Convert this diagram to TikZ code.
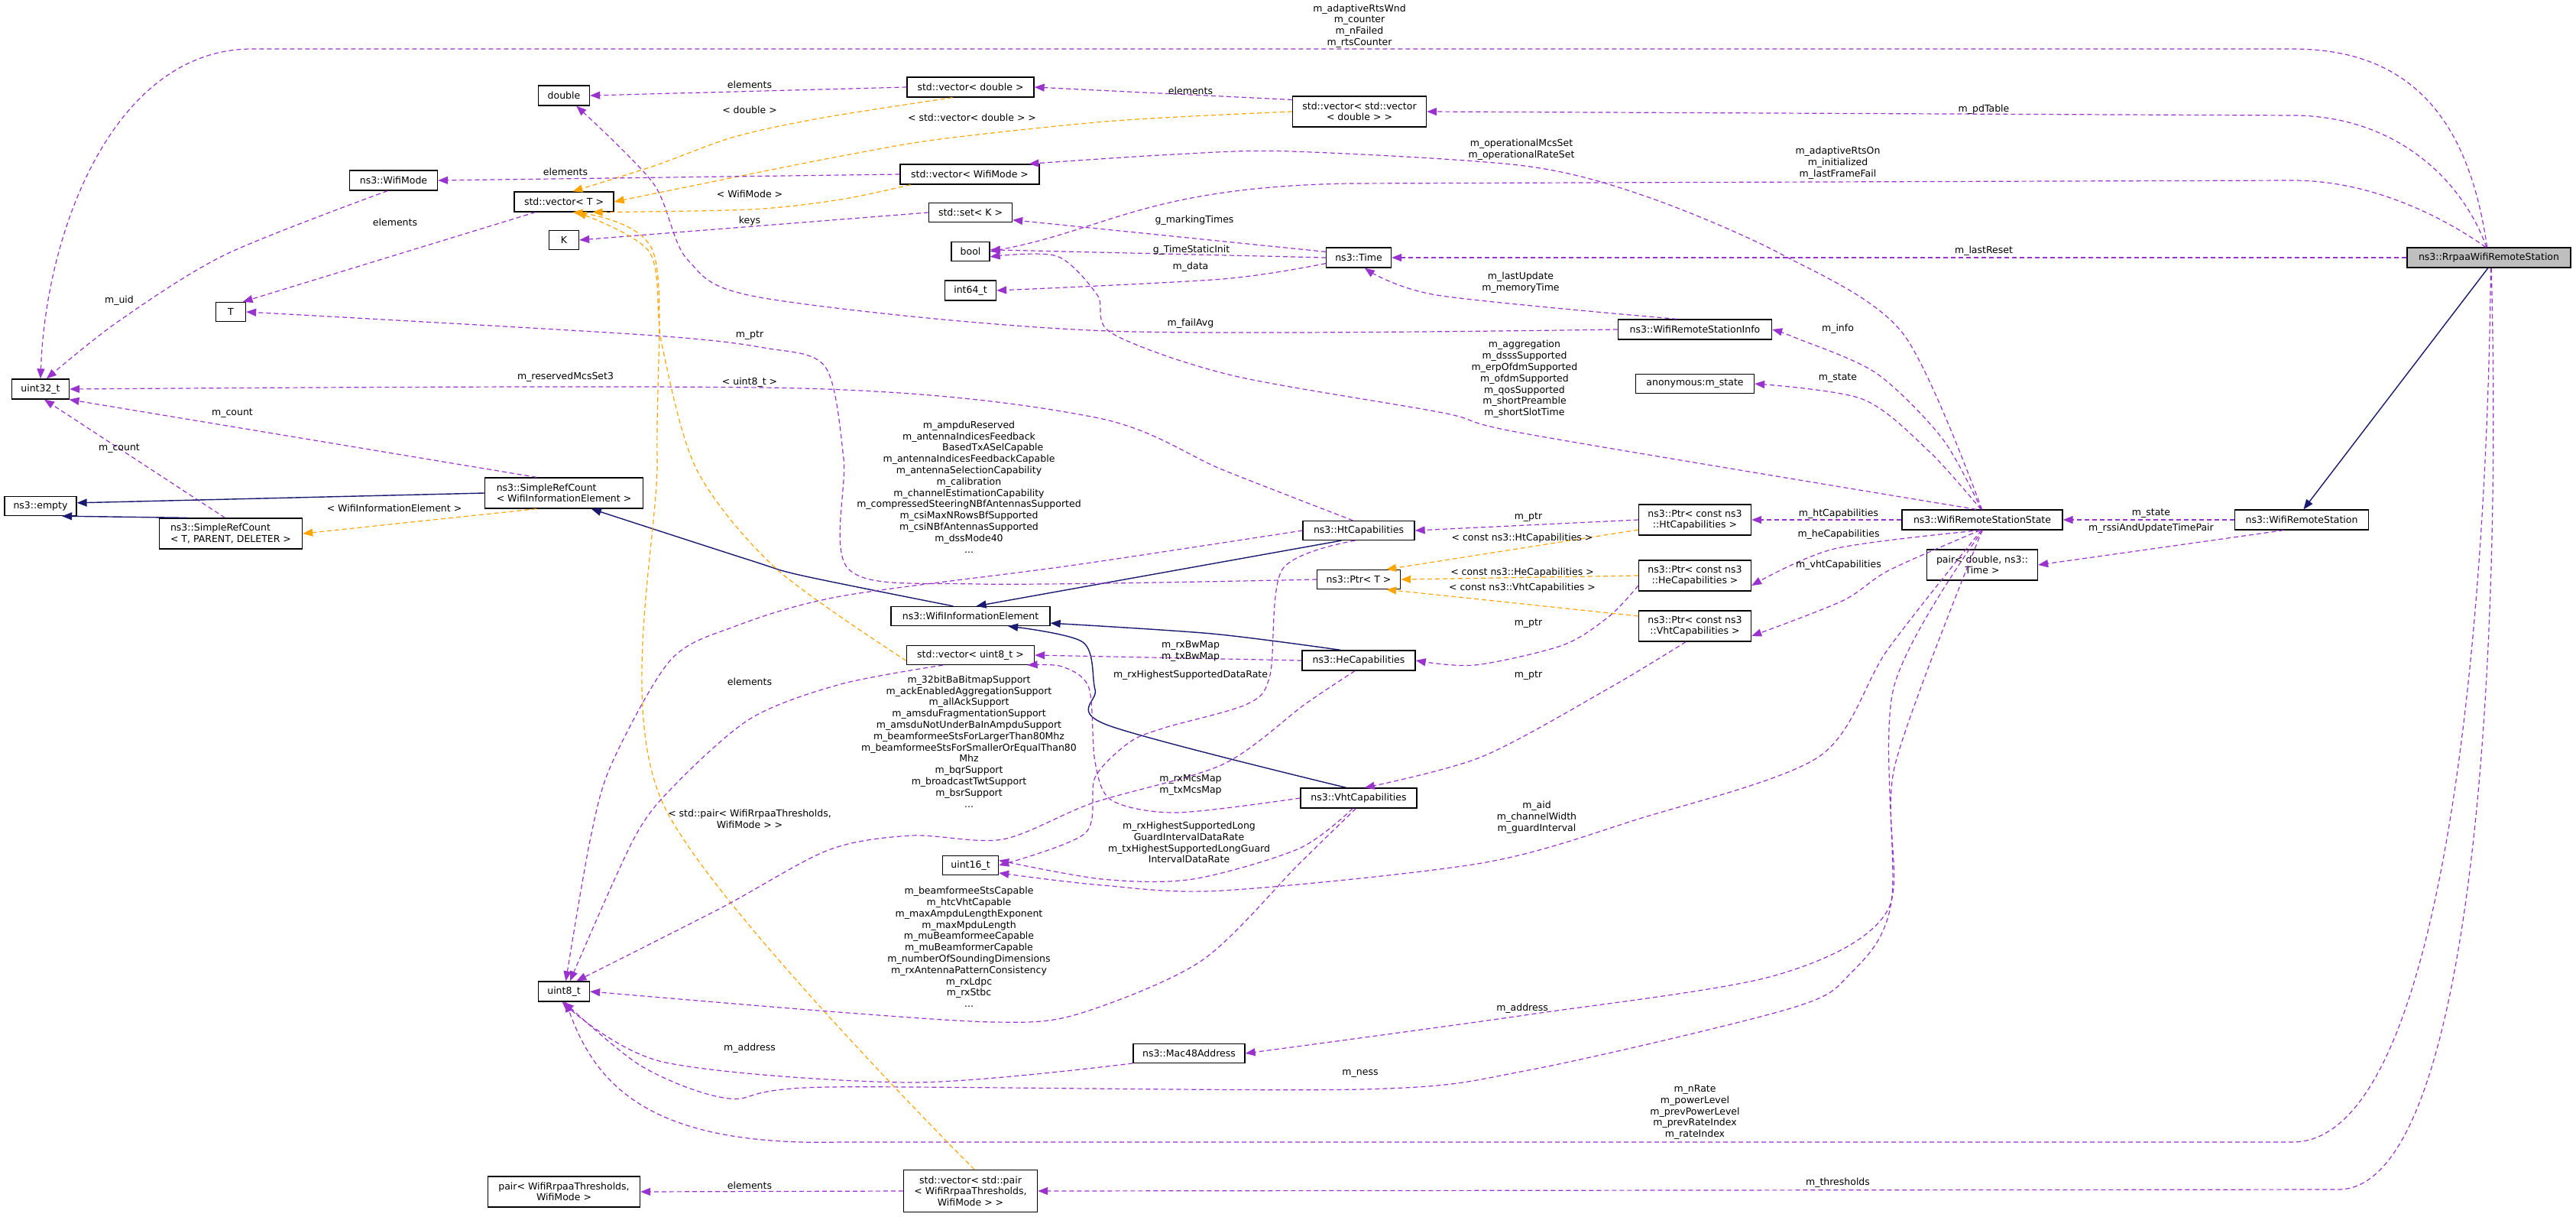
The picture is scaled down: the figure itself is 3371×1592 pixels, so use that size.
\documentclass[tikz,border=0pt]{standalone}
\usepackage{fontspec}
\setmainfont{DejaVu Sans}
\usetikzlibrary{arrows.meta}
\definecolor{pur}{RGB}{154,50,205}
\definecolor{org}{RGB}{255,165,0}
\definecolor{nav}{RGB}{25,25,112}
\tikzset{
 cls/.style={draw=black,line width=1.3pt,fill=white,inner sep=0pt,align=center,font=\fontsize{12.5}{14.5}\selectfont},
 lcls/.style={cls,align=left},
 lbl/.style={inner sep=0pt,align=center,font=\fontsize{12.5}{14.8}\selectfont},
 pe/.style={draw=pur,line width=1.2pt,dash pattern=on 6pt off 4pt,-{Triangle[length=13pt,width=10pt,fill=pur]}},
 oe/.style={draw=org,line width=1.2pt,dash pattern=on 6pt off 4pt,-{Triangle[length=13pt,width=10pt,fill=org]}},
 ne/.style={draw=nav,line width=1.4pt,-{Triangle[length=13pt,width=10pt,fill=nav]}},
 sm/.style={smooth,tension=0.5}
}
\begin{document}
\begin{tikzpicture}[x=1pt,y=-1pt]
\fill[white] (0,0) rectangle (3371,1592);
\useasboundingbox (0,0) rectangle (3371,1592);
% nodes
\node[cls,minimum width=75,minimum height=26] (uint32) at (53,509) {uint32\_t};
\node[cls,minimum width=94,minimum height=25] (empty) at (53,662) {ns3::empty};
\node[cls,minimum width=39,minimum height=25] (T) at (302,408) {T};
\node[cls,minimum width=115,minimum height=26] (wmode) at (515,236) {ns3::WifiMode};
\node[cls,minimum width=130,minimum height=26] (vecT) at (738,264) {std::vector< T >};
\node[cls,minimum width=67,minimum height=26] (double) at (738,125) {double};
\node[cls,minimum width=39,minimum height=25] (K) at (738,314) {K};
\node[lcls,minimum width=207,minimum height=40] (srcw) at (738,645) {ns3::SimpleRefCount\\< WifiInformationElement >};
\node[lcls,minimum width=187,minimum height=40] (srct) at (302,698) {ns3::SimpleRefCount\\< T, PARENT, DELETER >};
\node[cls,minimum width=67,minimum height=26] (uint8) at (738,1297) {uint8\_t};
\node[cls,minimum width=199,minimum height=40] (pairwm) at (738,1559) {pair< WifiRrpaaThresholds,\\ WifiMode >};
\node[cls,minimum width=166,minimum height=26] (vecd) at (1270,114) {std::vector< double >};
\node[cls,minimum width=182,minimum height=26] (vecwm) at (1269,228) {std::vector< WifiMode >};
\node[cls,minimum width=109,minimum height=25] (setK) at (1270,278) {std::set< K >};
\node[cls,minimum width=50,minimum height=25] (bool) at (1270,329) {bool};
\node[cls,minimum width=67,minimum height=26] (int64) at (1270,380) {int64\_t};
\node[cls,minimum width=208,minimum height=25] (wie) at (1270,806) {ns3::WifiInformationElement};
\node[cls,minimum width=167,minimum height=25] (vecu8) at (1270,857) {std::vector< uint8\_t >};
\node[cls,minimum width=73,minimum height=25] (uint16) at (1270,1132) {uint16\_t};
\node[cls,minimum width=175,minimum height=55] (vecpair) at (1270,1558) {std::vector< std::pair\\< WifiRrpaaThresholds,\\ WifiMode > >};
\node[cls,minimum width=146,minimum height=25] (mac) at (1556,1378) {ns3::Mac48Address};
\node[cls,minimum width=175,minimum height=40] (vecvec) at (1779,146) {std::vector< std::vector\\< double > >};
\node[cls,minimum width=85,minimum height=26] (time) at (1778,337) {ns3::Time};
\node[cls,minimum width=146,minimum height=25] (ht) at (1778,694) {ns3::HtCapabilities};
\node[cls,minimum width=109,minimum height=25] (ptrT) at (1778,758) {ns3::Ptr< T >};
\node[cls,minimum width=148,minimum height=26] (he) at (1778,864) {ns3::HeCapabilities};
\node[cls,minimum width=152,minimum height=26] (vht) at (1778,1044) {ns3::VhtCapabilities};
\node[cls,minimum width=201,minimum height=26] (info) at (2218,431) {ns3::WifiRemoteStationInfo};
\node[cls,minimum width=155,minimum height=25] (anon) at (2218,502) {anonymous:m\_state};
\node[cls,minimum width=147,minimum height=40] (pht) at (2218,680) {ns3::Ptr< const ns3\\::HtCapabilities >};
\node[cls,minimum width=147,minimum height=40] (phe) at (2218,753) {ns3::Ptr< const ns3\\::HeCapabilities >};
\node[cls,minimum width=147,minimum height=40] (pvht) at (2218,819) {ns3::Ptr< const ns3\\::VhtCapabilities >};
\node[cls,minimum width=210,minimum height=26] (wrss) at (2594,680) {ns3::WifiRemoteStationState};
\node[cls,minimum width=145,minimum height=40] (pairdt) at (2594,739) {pair< double, ns3::\\Time >};
\node[cls,minimum width=175,minimum height=26] (wrs) at (3012,680) {ns3::WifiRemoteStation};
\node[cls,fill=black!25,minimum width=214,minimum height=26] (rrpaa) at (3257,337) {ns3::RrpaaWifiRemoteStation};

% edges from Rrpaa
\draw[pe] (rrpaa.100) .. controls (3230,150) and (3150,64) .. (3000,64) -- (330,64) .. controls (150,64) and (60,300) .. (uint32.north);
\draw[pe] (rrpaa.103) .. controls (3220,230) and (3130,151) .. (3000,151) -- (vecvec.east);
\draw[pe] (rrpaa.107) .. controls (3220,300) and (3120,236) .. (3000,236) -- (1765,240) .. controls (1500,245) and (1450,300) .. (bool.east);
\draw[pe] (rrpaa.west) -- (time.east);
\draw[pe] (rrpaa.-80) .. controls (3255,800) and (3200,1494) .. (3000,1494) -- (1100,1494) .. controls (850,1500) and (780,1420) .. (uint8.-80);
\draw[pe] (rrpaa.-77) .. controls (3275,900) and (3230,1556) .. (3060,1556) -- (vecpair.east);
\draw[ne] (rrpaa.-95) -- (wrs.80);
% WRS
\draw[pe] (wrs.west) -- (wrss.east);
\draw[pe] (wrs.-150) -- (pairdt.east);
% WRSS
\draw[pe] plot[sm] coordinates {(wrss.95) (2542,574) (2455,488) (2350,442) (info.east)};
\draw[pe] plot[sm] coordinates {(wrss.97) (2525,591) (2437,522) (anon.east)};
\draw[pe] (wrss.west) -- (pht.east);
\draw[pe] plot[sm] coordinates {(wrss.-100) (2400,718) (phe.-10)};
\draw[pe] plot[sm] coordinates {(wrss.-102) (2472,746) (2411,786) (pvht.-10)};
\draw[pe] plot[sm] coordinates {(wrss.92) (2490,436) (2332,333) (2157,258) (1995,217) (1689,198) (1536,202) (vecwm.10)};
\draw[pe] plot[sm] coordinates {(wrss.120) (2000,568) (1888,540) (1612,491) (1455,436) (1436,386) (1383,335) (bool.-15)};
\draw[pe] plot[sm] coordinates {(wrss.-95) (2470,850) (2380,990) (2142,1072) (1939,1129) (1600,1165) (1442,1158) (uint16.-15)};
\draw[pe] plot[sm] coordinates {(wrss.-90) (2480,1000) (2470,1191) (2323,1276) (1995,1328) (mac.east)};
\draw[pe] plot[sm] coordinates {(wrss.-88) (2478,900) (2475,1180) (2420,1275) (2340,1320) (2000,1400) (1780,1425) (1084,1422) (954,1437) (840,1395) (uint8.-90)};
% Time, Info
\draw[pe] (time.170) -- (setK.-10);
\draw[pe] (time.west) -- (bool.5);
\draw[pe] plot[sm] coordinates {(time.-170) (1600,365) (int64.east)};
\draw[pe] plot[sm] coordinates {(info.150) (1880,386) (time.-60)};
\draw[pe] plot[sm] coordinates {(info.west) (1450,433) (1000,390) (900,340) (855,240) (double.-40)};
% vectors
\draw[pe] (vecvec.170) -- (vecd.east);
\draw[oe] plot[sm] coordinates {(vecvec.west) (1459,158) (1230,182) (1107,203) (1000,224) (vecT.east)};
\draw[oe] plot[sm] coordinates {(vecd.-150) (1077,154) (961,179) (856,217) (vecT.50)};
\draw[pe] (vecd.west) -- (double.east);
\draw[pe] (vecwm.west) -- (wmode.east);
\draw[oe] plot[sm] coordinates {(vecwm.-170) (1100,261) (982,274) (vecT.-20)};
\draw[pe] (setK.west) -- (K.east);
\draw[pe] (vecT.-160) -- (T.40);
\draw[pe] plot[sm] coordinates {(wmode.-120) (295,333) (154,421) (uint32.60)};
% SimpleRefCount
\draw[pe] (srcw.150) -- (uint32.-20);
\draw[pe] (srct.110) -- (uint32.-70);
\draw[ne] (srcw.west) -- (empty.5);
\draw[ne] (srct.160) -- (empty.-25);
\draw[oe] (srcw.-150) -- (srct.east);
\draw[ne] plot[sm] coordinates {(wie.150) (1050,753) (982,733) (srcw.-30)};
% caps
\draw[ne] (ht.-150) -- (wie.60);
\draw[ne] plot[sm] coordinates {(he.150) (1586,829) (wie.-5)};
\draw[ne] plot[sm] coordinates {(vht.140) (1448,948) (1433,902) (1417,840) (wie.-15)};
\draw[pe] plot[sm] coordinates {(ht.120) (1601,615) (1433,546) (1050,508) (uint32.east)};
\draw[oe] plot[sm] coordinates {(vecu8.-175) (1017,745) (912,615) (866,450) (850,330) (vecT.-40)};
\draw[oe] plot[sm] coordinates {(vecpair.80) (867,1050) (860,600) (855,330) (vecT.-50)};
\draw[pe] plot[sm] coordinates {(ptrT.west) (1280,764) (1111,745) (1104,600) (1080,480) (1000,455) (842,438) (T.east)};
\draw[pe] (pht.west) -- (ht.east);
\draw[pe] plot[sm] coordinates {(phe.-170) (2106,806) (2045,844) (1930,870) (he.east)};
\draw[pe] plot[sm] coordinates {(pvht.-120) (2106,900) (1939,990) (vht.60)};
\draw[oe] (pht.-170) -- (ptrT.20);
\draw[oe] (phe.west) -- (ptrT.east);
\draw[oe] (pvht.170) -- (ptrT.-20);
\draw[pe] plot[sm] coordinates {(vecu8.-160) (1100,895) (982,940) (880,1030) (828,1100) (uint8.60)};
\draw[pe] plot[sm] coordinates {(ht.west) (1400,740) (1100,780) (960,820) (877,864) (800,1000) (772,1100) (uint8.80)};
\draw[pe] plot[sm] coordinates {(he.-110) (1708,921) (1600,1000) (1431,1050) (1312,1098) (1193,1093) (1084,1112) (943,1188) (uint8.40)};
\draw[pe] (he.west) -- (vecu8.east);
\draw[pe] plot[sm] coordinates {(vht.west) (1540,1063) (1455,1047) (1433,997) (1425,900) (1390,872) (vecu8.-10)};
\draw[pe] plot[sm] coordinates {(ht.-110) (1678,745) (1662,883) (1632,921) (1524,952) (1478,971) (1433,1017) (1420,1090) (uint16.east)};
\draw[pe] plot[sm] coordinates {(vht.-120) (1700,1110) (1561,1150) (1442,1150) (uint16.10)};
\draw[pe] plot[sm] coordinates {(vht.-105) (1700,1130) (1572,1257) (1409,1327) (1301,1337) (1084,1323) (uint8.east)};
\draw[pe] plot[sm] coordinates {(mac.-170) (1193,1416) (867,1389) (uint8.-100)};
\draw[pe] (vecpair.west) -- (pairwm.east);

% labels
\node[lbl] (l1) at (1779,34) {m\_adaptiveRtsWnd\\m\_counter\\m\_nFailed\\m\_rtsCounter};
\node[lbl] (l2) at (2596,143) {m\_pdTable};
\node[lbl] (l3) at (2405,213) {m\_adaptiveRtsOn\\m\_initialized\\m\_lastFrameFail};
\node[lbl] (l4) at (2596,328) {m\_lastReset};
\node[lbl] (l5) at (1991,196) {m\_operationalMcsSet\\m\_operationalRateSet};
\node[lbl] (l6) at (1995,496) {m\_aggregation\\m\_dsssSupported\\m\_erpOfdmSupported\\m\_ofdmSupported\\m\_qosSupported\\m\_shortPreamble\\m\_shortSlotTime};
\node[lbl] (l7) at (1990,370) {m\_lastUpdate\\m\_memoryTime};
\node[lbl] (l8) at (2405,430) {m\_info};
\node[lbl] (l9) at (2405,495) {m\_state};
\node[lbl] (l10) at (2406,672) {m\_htCapabilities};
\node[lbl] (l11) at (2406,699) {m\_heCapabilities};
\node[lbl] (l12) at (2406,739) {m\_vhtCapabilities};
\node[lbl] (l13) at (2815,672) {m\_state};
\node[lbl] (l14) at (2815,691) {m\_rssiAndUpdateTimePair};
\node[lbl] (l16) at (1563,288) {g\_markingTimes};
\node[lbl] (l17) at (1559,327) {g\_TimeStaticInit};
\node[lbl] (l18) at (1558,349) {m\_data};
\node[lbl] (l19) at (1558,423) {m\_failAvg};
\node[lbl] (l20) at (1558,119) {elements};
\node[lbl] (l21) at (1272,154) {< std::vector< double > >};
\node[lbl] (l22) at (981,111) {elements};
\node[lbl] (l23) at (981,144) {< double >};
\node[lbl] (l24) at (740,225) {elements};
\node[lbl] (l25) at (981,254) {< WifiMode >};
\node[lbl] (l26) at (981,289) {keys};
\node[lbl] (l27) at (517,291) {elements};
\node[lbl] (l28) at (156,393) {m\_uid};
\node[lbl] (l29) at (981,439) {m\_ptr};
\node[lbl] (l30) at (740,493) {m\_reservedMcsSet3};
\node[lbl] (l31) at (981,500) {< uint8\_t >};
\node[lbl] (l32) at (304,541) {m\_count};
\node[lbl] (l33) at (156,587) {m\_count};
\node[lbl] (l34) at (516,665) {< WifiInformationElement >};
\node[lbl] (l35) at (1268,637) {m\_ampduReserved\\m\_antennaIndicesFeedback\\\hspace*{5em}BasedTxASelCapable\\m\_antennaIndicesFeedbackCapable\\m\_antennaSelectionCapability\\m\_calibration\\m\_channelEstimationCapability\\m\_compressedSteeringNBfAntennasSupported\\m\_csiMaxNRowsBfSupported\\m\_csiNBfAntennasSupported\\m\_dssMode40\\...};
\node[lbl] (l36) at (2000,677) {m\_ptr};
\node[lbl] (l37) at (1992,704) {< const ns3::HtCapabilities >};
\node[lbl] (l38) at (1992,749) {< const ns3::HeCapabilities >};
\node[lbl] (l39) at (1992,769) {< const ns3::VhtCapabilities >};
\node[lbl] (l40) at (2000,816) {m\_ptr};
\node[lbl] (l41) at (2000,884) {m\_ptr};
\node[lbl] (l42) at (1558,852) {m\_rxBwMap\\m\_txBwMap};
\node[lbl] (l43) at (1558,883) {m\_rxHighestSupportedDataRate};
\node[lbl] (l44) at (981,892) {elements};
\node[lbl] (l45) at (1268,970) {m\_32bitBaBitmapSupport\\m\_ackEnabledAggregationSupport\\m\_allAckSupport\\m\_amsduFragmentationSupport\\m\_amsduNotUnderBaInAmpduSupport\\m\_beamformeeStsForLargerThan80Mhz\\m\_beamformeeStsForSmallerOrEqualThan80\\Mhz\\m\_bqrSupport\\m\_broadcastTwtSupport\\m\_bsrSupport\\...};
\node[lbl] (l46) at (1558,1027) {m\_rxMcsMap\\m\_txMcsMap};
\node[lbl] (l47) at (2011,1069) {m\_aid\\m\_channelWidth\\m\_guardInterval};
\node[lbl] (l48) at (981,1071) {< std::pair< WifiRrpaaThresholds,\\WifiMode > >};
\node[lbl] (l49) at (1556,1102) {m\_rxHighestSupportedLong\\GuardIntervalDataRate\\m\_txHighestSupportedLongGuard\\IntervalDataRate};
\node[lbl] (l50) at (1268,1239) {m\_beamformeeStsCapable\\m\_htcVhtCapable\\m\_maxAmpduLengthExponent\\m\_maxMpduLength\\m\_muBeamformeeCapable\\m\_muBeamformerCapable\\m\_numberOfSoundingDimensions\\m\_rxAntennaPatternConsistency\\m\_rxLdpc\\m\_rxStbc\\...};
\node[lbl] (l51) at (1992,1319) {m\_address};
\node[lbl] (l52) at (981,1371) {m\_address};
\node[lbl] (l53) at (1780,1404) {m\_ness};
\node[lbl] (l54) at (2218,1455) {m\_nRate\\m\_powerLevel\\m\_prevPowerLevel\\m\_prevRateIndex\\m\_rateIndex};
\node[lbl] (l55) at (2405,1547) {m\_thresholds};
\node[lbl] (l56) at (981,1551) {elements};
\end{tikzpicture}
\end{document}
